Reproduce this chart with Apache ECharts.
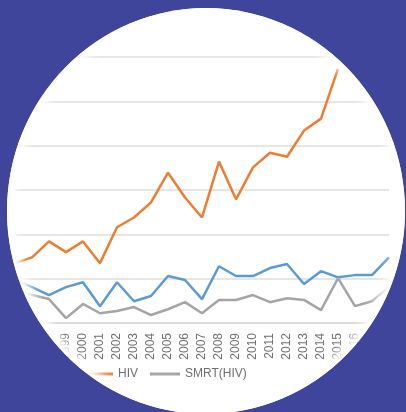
<!DOCTYPE html>
<html>
<head>
<meta charset="utf-8">
<script src="https://cdn.jsdelivr.net/npm/echarts@6/dist/echarts.min.js"></script>
<style>
  html, body { margin: 0; padding: 0; }
  body { width: 406px; height: 412px; background: #3e459b; position: relative; overflow: hidden; }
  #wrap {
    position: absolute; left: 7px; top: 8px; width: 398px; height: 406px;
    border-radius: 50%; overflow: hidden; background: #fff;
  }
  #chart { width: 398px; height: 406px; }
  #fade {
    position: absolute; left: 0; top: 0; width: 100%; height: 100%;
    border-radius: 50%; box-shadow: inset 0 0 9px 8px #fff; pointer-events: none;
  }
</style>
</head>
<body>
<div id="wrap">
  <div id="chart"></div>
  <div id="fade"></div>
</div>
<script>
var years = ['1996', '1997', '1998', '1999', '2000', '2001', '2002', '2003', '2004', '2005', '2006', '2007',
  '2008', '2009', '2010', '2011', '2012', '2013', '2014', '2015', '2016', '2017', '2018']
var hiv = [13.5, 14.8, 18.4, 16.0, 18.4, 13.5, 21.6, 23.8, 27.2, 33.9, 28.3, 23.8,
  36.4, 27.9, 35.1, 38.4, 37.5, 43.4, 46.1, 57.3, null, null, null]
var total = [9.7, 8.1, 6.3, 8.1, 9.2, 3.8, 9.2, 4.9, 6.1, 10.6, 9.7, 5.4,
  12.8, 10.6, 10.6, 12.4, 13.3, 8.8, 11.7, 10.3, 10.8, 10.8, 14.8]
var smrt = [7.4, 6.3, 5.4, 1.1, 4.3, 2.2, 2.7, 3.6, 1.8, 3.1, 4.7, 2.2,
  5.2, 5.2, 6.3, 4.7, 5.6, 5.2, 2.9, 10.1, 3.8, 4.9, 8.1]

var chart = echarts.init(document.getElementById('chart'))
chart.setOption({
  backgroundColor: '#fff',
  animation: false,
  grid: {
    left: 8,
    right: 16,
    top: 49,
    bottom: 91
  },
  legend: {
    data: ['HIV', 'SMRT(HIV)'],
    left: 71,
    top: 355,
    icon: 'rect',
    itemWidth: 30,
    itemHeight: 3,
    itemGap: 12,
    textStyle: {
      color: '#707070',
      fontSize: 12,
      fontFamily: 'Liberation Sans'
    }
  },
  xAxis: {
    type: 'category',
    boundaryGap: false,
    data: years,
    axisTick: { show: false },
    axisLine: {
      lineStyle: { color: '#d9d9d9', width: 1.5 }
    },
    axisLabel: {
      interval: 0,
      rotate: 90,
      margin: 10,
      color: '#707070',
      fontSize: 12,
      fontFamily: 'Liberation Sans'
    }
  },
  yAxis: {
    type: 'value',
    min: 0,
    max: 60,
    interval: 10,
    axisLabel: { show: false },
    axisLine: { show: false },
    axisTick: { show: false },
    splitLine: {
      lineStyle: { color: '#dedede', width: 1.5 }
    }
  },
  series: [
    {
      name: 'Total',
      type: 'line',
      symbol: 'none',
      data: total,
      lineStyle: { color: '#5b9bd5', width: 2.5 },
      itemStyle: { color: '#5b9bd5' }
    },
    {
      name: 'HIV',
      type: 'line',
      symbol: 'none',
      data: hiv,
      lineStyle: { color: '#ed7d31', width: 2.5 },
      itemStyle: { color: '#ed7d31' }
    },
    {
      name: 'SMRT(HIV)',
      type: 'line',
      symbol: 'none',
      data: smrt,
      lineStyle: { color: '#a5a5a5', width: 2.5 },
      itemStyle: { color: '#a5a5a5' }
    }
  ]
})
</script>
</body>
</html>
